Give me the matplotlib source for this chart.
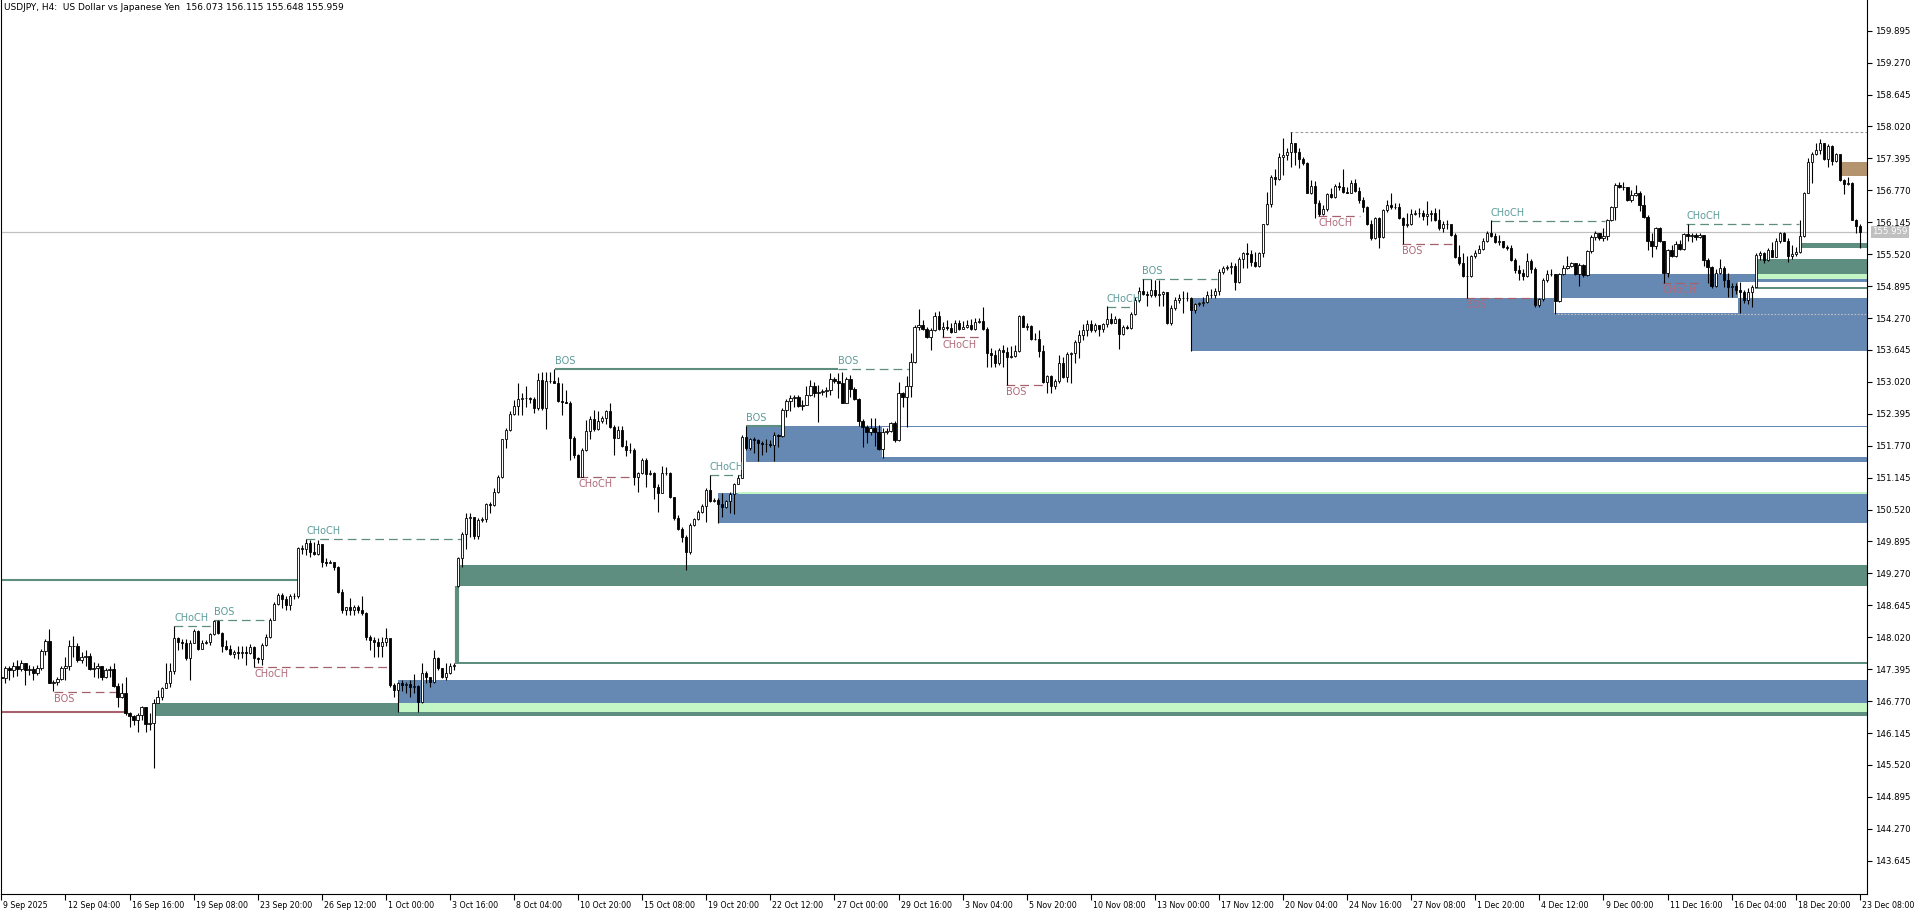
import matplotlib
matplotlib.use('Agg')
import matplotlib.pyplot as plt
from matplotlib.patches import Rectangle

plt.rcParams['font.family'] = ['DejaVu Sans']

# ---- USDJPY H4 candles, open = previous close ----
first_open = 147.25
gap_open = {114: 149.02}   # weekend gap on the Monday bar

close = [
    # 0 - 113
    147.22, 147.41, 147.38, 147.46, 147.39, 147.51, 147.37, 147.39, 147.33, 147.41,
    147.75, 147.95, 147.13, 147.15, 147.20, 147.41, 147.45, 147.84, 147.85, 147.58,
    147.64, 147.65, 147.39, 147.41, 147.46, 147.25, 147.38, 147.39, 147.07, 146.86,
    146.92, 146.53, 146.48, 146.40, 146.50, 146.65, 146.32, 146.35, 146.74, 146.86,
    147.02, 147.12, 147.35, 148.00, 147.93, 147.91, 147.61, 147.91, 148.14, 147.80,
    147.91, 147.93, 148.08, 148.33, 148.10, 147.84, 147.80, 147.69, 147.74, 147.72,
    147.74, 147.71, 147.82, 147.61, 147.59, 147.86, 148.03, 148.36, 148.68, 148.84,
    148.76, 148.65, 148.82, 148.83, 149.76, 149.74, 149.87, 149.68, 149.66, 149.84,
    149.50, 149.48, 149.50, 149.40, 148.91, 148.55, 148.61, 148.55, 148.62, 148.55,
    148.49, 148.03, 147.97, 147.93, 147.84, 147.93, 148.00, 147.09, 146.99, 147.12,
    147.09, 147.11, 147.05, 147.07, 146.76, 147.33, 147.25, 147.15, 147.61, 147.41,
    147.25, 147.33, 147.45, 147.48,
    # 114 - 228
    149.57,
    150.05, 150.35, 150.37, 150.00, 150.32, 150.34, 150.63, 150.61, 150.87, 151.15,
    151.90, 152.08, 152.40, 152.55, 152.68, 152.71, 152.70, 152.69, 152.50, 153.06,
    152.50, 153.04, 153.04, 153.00, 152.65, 152.63, 152.61, 151.93, 151.58, 151.16,
    151.69, 152.06, 152.29, 152.09, 152.26, 152.31, 152.44, 152.13, 151.93, 152.08,
    151.76, 151.69, 151.69, 151.16, 151.23, 151.49, 151.22, 151.24, 150.97, 150.85,
    151.23, 151.23, 150.77, 150.35, 150.13, 149.99, 149.68, 150.22, 150.33, 150.48,
    150.59, 150.90, 150.69, 150.71, 150.63, 150.58, 150.69, 150.82, 151.03, 151.14,
    151.95, 151.72, 151.90, 151.88, 151.82, 151.80, 151.80, 151.78, 151.98, 151.97,
    152.47, 152.65, 152.70, 152.72, 152.55, 152.57, 152.76, 152.93, 152.81, 152.83,
    152.85, 152.86, 153.07, 153.04, 153.00, 152.61, 153.07, 152.89, 152.68, 152.25,
    152.13, 152.03, 152.11, 152.03, 151.70, 152.03, 152.06, 152.21, 151.88, 152.81,
    152.72, 152.94, 153.40, 154.10,
    # 229 - 311
    154.13, 154.05, 153.89, 154.04, 154.31, 154.05, 154.09, 154.08, 154.00, 154.18,
    154.06, 154.09, 154.13, 154.06, 154.19, 154.21, 154.05, 153.58, 153.54, 153.38,
    153.64, 153.61, 153.51, 153.53, 153.63, 154.31, 154.10, 154.11, 153.85, 153.85,
    153.63, 153.02, 153.13, 152.93, 153.04, 153.38, 153.12, 153.57, 153.58, 153.81,
    153.94, 154.04, 154.15, 154.04, 154.13, 154.05, 154.15, 154.26, 154.18, 154.26,
    153.96, 154.10, 154.08, 154.35, 154.62, 154.79, 154.74, 154.73, 154.82, 154.73,
    154.74, 154.77, 154.18, 154.46, 154.62, 154.66, 154.67, 154.67, 154.43, 154.54,
    154.56, 154.59, 154.72, 154.72, 154.79, 155.18, 155.24, 155.26, 155.29, 154.98,
    155.42, 155.54, 155.52,
    # 312 - 349
    155.37, 155.28, 155.54, 156.11, 156.50, 157.04, 156.99, 157.43, 157.46, 157.53,
    157.69, 157.53, 157.38, 157.30, 156.72, 156.85, 156.53, 156.31, 156.40, 156.70,
    156.63, 156.85, 156.83, 156.74, 156.72, 156.91, 156.76, 156.59, 156.45, 156.12,
    155.83, 156.22, 155.85, 156.39, 156.48, 156.45, 156.45, 156.22,
    # 350 - 406
    156.09, 156.12, 156.31, 156.33, 156.32, 156.27, 156.31, 156.32, 156.19, 156.03,
    156.12, 156.11, 155.90, 155.46, 155.35, 155.09, 155.09, 155.48, 155.55, 155.63,
    155.78, 155.94, 155.88, 155.76, 155.78, 155.67, 155.65, 155.41, 155.21, 155.15,
    155.09, 155.39, 155.22, 154.53, 154.64, 155.02, 155.13, 155.13, 154.61, 155.13,
    155.24, 155.28, 155.35, 155.13, 155.31, 155.11, 155.59, 155.86, 155.93, 155.83,
    155.88, 156.19, 156.45, 156.87, 156.84, 156.83, 156.59,
    # 407 - 464
    156.68, 156.72, 156.48, 156.25, 155.77, 155.68, 156.03, 155.77, 155.16, 155.60,
    155.48, 155.72, 155.63, 155.92, 155.88, 155.90, 155.85, 155.90, 155.41, 155.26,
    154.90, 155.16, 155.24, 155.01, 154.88, 154.90, 154.81, 154.77, 154.62, 154.77,
    154.88, 155.50, 155.54, 155.41, 155.61, 155.47, 155.77, 155.93, 155.78, 155.48,
    155.52, 155.57, 155.88, 156.72, 157.33, 157.49, 157.55, 157.70, 157.38, 157.64,
    157.35, 157.48, 156.97, 156.89, 156.92, 156.19, 156.073, 155.959,
]

high = [
    147.27, 147.45, 147.46, 147.54, 147.58, 147.58, 147.51, 147.47, 147.45, 147.47,
    147.79, 147.98, 148.18, 147.18, 147.24, 147.46, 147.64, 147.97, 148.05, 147.90,
    147.74, 147.77, 147.71, 147.54, 147.51, 147.45, 147.41, 147.46, 147.51, 147.13,
    147.13, 147.24, 146.56, 146.50, 146.53, 146.67, 146.66, 146.53, 146.81, 146.99,
    147.05, 147.51, 147.51, 148.25, 148.03, 147.98, 147.98, 147.97, 148.18, 148.16,
    147.97, 147.97, 148.10, 148.36, 148.35, 148.13, 147.97, 147.86, 147.77, 147.84,
    147.84, 147.84, 147.88, 147.85, 147.64, 147.90, 148.08, 148.39, 148.72, 148.88,
    148.88, 148.82, 148.87, 148.88, 149.79, 149.83, 149.94, 149.92, 149.89, 149.92,
    149.79, 149.57, 149.53, 149.50, 149.42, 148.96, 148.62, 148.78, 148.65, 148.65,
    148.82, 148.52, 148.06, 148.03, 148.00, 148.02, 148.20, 147.91, 147.13, 147.15,
    147.18, 147.15, 147.18, 147.31, 147.09, 147.51, 147.35, 147.25, 147.77, 147.64,
    147.41, 147.51, 147.51, 147.51,
    149.60,
    150.09, 150.45, 150.46, 150.38, 150.35, 150.38, 150.64, 150.66, 150.94, 151.20,
    151.91, 152.11, 152.44, 152.67, 153.00, 152.80, 152.93, 152.73, 152.73, 153.19,
    153.22, 153.22, 153.22, 153.27, 153.12, 152.99, 152.86, 152.65, 151.96, 151.60,
    151.72, 152.27, 152.35, 152.46, 152.44, 152.35, 152.46, 152.61, 152.18, 152.16,
    152.16, 151.88, 151.82, 151.72, 151.26, 151.52, 151.52, 151.29, 151.26, 151.02,
    151.37, 151.36, 151.26, 150.77, 150.41, 150.17, 150.02, 150.25, 150.35, 150.51,
    150.63, 150.94, 151.20, 150.74, 150.74, 150.84, 150.71, 150.87, 151.05, 151.20,
    151.98, 152.16, 151.93, 151.95, 151.91, 151.87, 151.90, 151.88, 152.03, 152.00,
    152.50, 152.68, 152.76, 152.76, 152.76, 152.67, 152.93, 153.06, 153.02, 152.96,
    152.89, 152.91, 153.19, 153.11, 153.19, 153.22, 153.12, 153.15, 152.91, 152.70,
    152.29, 152.18, 152.31, 152.31, 152.18, 152.11, 152.11, 152.24, 152.26, 153.02,
    152.83, 153.14, 153.58, 154.13,
    154.44, 154.24, 154.10, 154.07, 154.39, 154.41, 154.20, 154.23, 154.17, 154.23,
    154.24, 154.22, 154.23, 154.26, 154.28, 154.28, 154.48, 154.09, 153.68, 153.64,
    153.68, 153.74, 153.71, 153.72, 153.74, 154.33, 154.33, 154.17, 154.13, 153.98,
    154.04, 153.74, 153.15, 153.15, 153.07, 153.55, 153.51, 153.61, 153.61, 153.84,
    154.04, 154.15, 154.23, 154.24, 154.18, 154.10, 154.18, 154.51, 154.36, 154.31,
    154.28, 154.13, 154.13, 154.38, 154.69, 154.88, 155.04, 154.79, 155.03, 155.01,
    155.01, 154.79, 154.77, 154.53, 154.69, 154.75, 154.79, 154.77, 154.69, 154.57,
    154.59, 154.69, 154.79, 154.83, 154.85, 155.22, 155.29, 155.31, 155.37, 155.34,
    155.46, 155.57, 155.73,
    155.60, 155.57, 155.57, 156.12, 156.74, 157.07, 157.18, 157.51, 157.79, 157.59,
    157.91, 157.70, 157.59, 157.43, 157.33, 156.97, 156.96, 156.58, 156.48, 156.71,
    156.81, 156.89, 156.94, 157.18, 156.84, 156.97, 156.99, 156.83, 156.63, 156.46,
    156.19, 156.24, 156.25, 156.40, 156.58, 156.72, 156.52, 156.52,
    156.25, 156.32, 156.40, 156.39, 156.42, 156.39, 156.57, 156.39, 156.42, 156.40,
    156.16, 156.19, 156.07, 155.93, 155.70, 155.54, 155.48, 155.50, 155.60, 155.70,
    155.83, 155.98, 156.19, 155.93, 155.90, 155.78, 155.70, 155.70, 155.44, 155.31,
    155.22, 155.54, 155.42, 155.26, 154.66, 155.05, 155.21, 155.22, 155.13, 155.15,
    155.31, 155.48, 155.37, 155.35, 155.34, 155.33, 155.61, 155.90, 155.98, 155.94,
    156.03, 156.20, 156.46, 156.91, 156.94, 156.94, 156.83,
    156.78, 156.87, 156.76, 156.68, 156.29, 155.94, 156.06, 156.06, 155.78, 155.63,
    155.70, 155.77, 155.80, 155.94, 156.11, 155.93, 155.93, 155.93, 155.90, 155.44,
    155.29, 155.22, 155.42, 155.28, 155.15, 154.95, 154.95, 154.98, 154.81, 154.85,
    154.92, 155.55, 155.59, 155.57, 155.65, 155.75, 155.83, 155.96, 155.96, 155.83,
    155.70, 155.67, 156.19, 156.74, 157.40, 157.53, 157.69, 157.77, 157.69, 157.68,
    157.66, 157.51, 157.44, 156.99, 157.04, 156.94, 156.20, 156.115,
]

low = [
    146.71, 147.13, 147.18, 147.25, 147.26, 147.35, 147.09, 147.28, 147.18, 147.28,
    147.38, 147.67, 147.12, 146.96, 147.09, 147.18, 147.18, 147.38, 147.64, 147.54,
    147.51, 147.45, 147.38, 147.25, 147.22, 147.18, 147.22, 147.24, 147.05, 146.66,
    146.84, 146.50, 146.27, 146.30, 146.17, 146.40, 146.17, 146.21, 145.46, 146.73,
    146.79, 147.02, 147.05, 147.31, 147.78, 147.80, 147.57, 147.18, 147.90, 147.77,
    147.79, 147.89, 147.87, 148.06, 148.08, 147.74, 147.77, 147.67, 147.61, 147.59,
    147.61, 147.48, 147.69, 147.43, 147.51, 147.48, 147.84, 148.00, 148.41, 148.65,
    148.59, 148.55, 148.55, 148.76, 148.78, 149.66, 149.63, 149.60, 149.63, 149.63,
    149.40, 149.42, 149.48, 149.34, 148.89, 148.49, 148.46, 148.46, 148.46, 148.49,
    148.46, 147.97, 147.78, 147.64, 147.64, 147.64, 147.84, 147.05, 146.86, 146.56,
    146.96, 146.92, 146.86, 146.92, 146.56, 146.73, 147.12, 147.05, 147.12, 147.38,
    147.22, 147.18, 147.30, 147.38,
    149.00,
    149.40, 149.74, 149.99, 149.94, 149.94, 150.28, 150.28, 150.45, 150.59, 150.85,
    151.13, 151.72, 152.05, 152.37, 152.37, 152.37, 152.53, 152.60, 152.42, 152.47,
    152.47, 152.09, 152.99, 152.99, 152.63, 152.37, 152.60, 151.49, 151.52, 151.15,
    151.15, 151.67, 151.90, 152.06, 152.08, 152.21, 152.20, 152.11, 151.59, 151.93,
    151.75, 151.57, 151.63, 151.00, 150.87, 151.22, 150.97, 151.20, 150.72, 150.48,
    150.84, 151.20, 150.74, 150.32, 150.12, 149.89, 149.34, 149.66, 150.19, 150.32,
    150.45, 150.28, 150.67, 150.67, 150.25, 150.38, 150.56, 150.45, 150.43, 151.02,
    151.13, 151.69, 151.69, 151.62, 151.48, 151.59, 151.65, 151.75, 151.48, 151.75,
    151.95, 152.33, 152.44, 152.53, 152.53, 152.46, 152.57, 152.74, 152.73, 152.24,
    152.76, 152.73, 152.76, 153.00, 152.70, 152.60, 152.60, 152.73, 152.67, 152.16,
    151.74, 151.82, 151.98, 151.76, 151.69, 151.52, 152.00, 152.03, 151.85, 151.87,
    152.52, 152.14, 152.72, 153.38,
    154.04, 154.04, 153.87, 153.64, 154.02, 154.04, 153.89, 154.04, 153.98, 154.02,
    154.04, 154.05, 154.07, 154.04, 154.04, 154.17, 154.04, 153.32, 153.32, 153.32,
    153.35, 153.32, 152.96, 153.48, 153.51, 153.61, 154.09, 154.04, 153.84, 153.83,
    153.51, 153.00, 152.80, 152.80, 152.89, 153.00, 153.09, 153.02, 152.99, 153.38,
    153.48, 153.84, 153.92, 154.00, 154.00, 153.91, 154.00, 154.10, 154.15, 154.17,
    153.66, 153.94, 154.05, 154.05, 154.33, 154.59, 154.72, 154.51, 154.69, 154.69,
    154.51, 154.51, 154.15, 154.13, 154.43, 154.56, 154.36, 154.61, 153.63, 154.36,
    154.51, 154.51, 154.57, 154.66, 154.66, 154.72, 155.14, 155.21, 155.14, 154.81,
    154.96, 155.24, 155.24,
    155.28, 155.26, 155.26, 155.47, 156.09, 156.45, 156.87, 156.97, 157.07, 157.36,
    157.22, 157.27, 157.20, 157.27, 156.71, 156.70, 156.22, 156.27, 156.29, 156.37,
    156.61, 156.61, 156.78, 156.72, 156.71, 156.71, 156.74, 156.52, 156.35, 156.09,
    155.79, 155.81, 155.65, 155.83, 156.35, 156.40, 156.40, 156.20,
    155.72, 156.06, 156.09, 156.29, 156.25, 156.19, 156.09, 156.16, 156.16, 155.99,
    155.96, 156.01, 155.88, 155.44, 155.31, 155.08, 154.66, 155.08, 155.44, 155.54,
    155.60, 155.76, 155.86, 155.74, 155.70, 155.65, 155.60, 155.39, 155.15, 155.02,
    155.02, 155.08, 155.15, 154.49, 154.49, 154.61, 154.98, 155.09, 154.35, 154.59,
    155.11, 155.22, 155.26, 155.11, 154.90, 155.08, 155.09, 155.55, 155.80, 155.80,
    155.78, 155.80, 156.16, 156.18, 156.81, 156.78, 156.57,
    156.55, 156.65, 156.37, 156.22, 155.60, 155.47, 155.63, 155.75, 154.95, 155.07,
    155.47, 155.47, 155.61, 155.61, 155.77, 155.75, 155.80, 155.83, 155.29, 154.95,
    154.85, 154.87, 155.13, 154.88, 154.69, 154.69, 154.75, 154.37, 154.56, 154.55,
    154.49, 154.87, 155.41, 155.34, 155.39, 155.46, 155.46, 155.73, 155.77, 155.37,
    155.42, 155.48, 155.55, 155.86, 156.71, 156.92, 157.46, 157.49, 157.36, 157.22,
    157.27, 157.33, 156.96, 156.70, 156.87, 156.18, 155.93, 155.648,
]

# ---- zones drawn by the SMC indicator: (start bar, low, high, colour) ----
BLUE, GREEN, LGREEN, BROWN = '#6689B4', '#5E8E80', '#C4F5C4', '#B4946F'
zones = [
    (38.3, 146.47, 146.74, GREEN),
    (99.0, 146.74, 147.18, BLUE),
    (99.0, 146.56, 146.74, LGREEN),
    (114.5, 149.03, 149.44, GREEN),
    (113.3, 147.49, 147.53, GREEN),
    (179.0, 150.26, 150.84, BLUE),
    (183.9, 150.83, 150.86, LGREEN),
    (185.9, 151.46, 152.16, BLUE),
    (219.9, 151.54, 152.14, 'white'),
    (296.9, 153.63, 154.66, BLUE),
    (387.7, 154.37, 154.66, 'white'),
    (388.7, 154.67, 155.13, BLUE),
    (433.7, 154.37, 154.67, BLUE),
    (433.7, 154.67, 154.98, 'white'),
    (437.9, 155.13, 155.42, GREEN),
    (437.9, 155.03, 155.13, LGREEN),
    (437.9, 154.84, 154.88, GREEN),
    (448.9, 155.65, 155.73, GREEN),
    (458.9, 157.05, 157.33, BROWN),
]

# structure breaks: (start bar, end bar, price, label, direction)
breaks = [
    (13.2, 28.9, 146.955, 'BOS', 'bear'),
    (43.2, 53.2, 148.25, 'CHoCH', 'bull'),
    (53.2, 67.1, 148.36, 'BOS', 'bull'),
    (63.1, 97.1, 147.43, 'CHoCH', 'bear'),
    (76.1, 114.9, 149.94, 'CHoCH', 'bull'),
    (138.2, 208.9, 153.27, 'BOS', 'bull_solid'),
    (144.1, 158.2, 151.16, 'CHoCH', 'bear'),
    (176.9, 185.2, 151.20, 'CHoCH', 'bull'),
    (185.9, 194.8, 152.16, 'BOS', 'bull_solid'),
    (208.9, 226.9, 153.27, 'BOS', 'bull'),
    (234.9, 245.2, 153.89, 'CHoCH', 'bear'),
    (250.9, 261.0, 152.96, 'BOS', 'bear'),
    (276.0, 282.6, 154.49, 'CHoCH', 'bull'),
    (284.9, 303.4, 155.04, 'BOS', 'bull'),
    (328.8, 339.2, 156.27, 'CHoCH', 'bear'),
    (349.8, 362.5, 155.72, 'BOS', 'bear'),
    (365.8, 382.5, 154.66, 'BOS', 'bear'),
    (371.8, 400.4, 156.17, 'CHoCH', 'bull'),
    (414.7, 424.9, 154.95, 'CHoCH', 'bear'),
    (420.7, 448.7, 156.11, 'CHoCH', 'bull'),
]

last_price = 155.959
peak_level = (321.8, 157.91)
price_ticks = [143.645, 144.270, 144.895, 145.520, 146.145, 146.770, 147.395,
               148.020, 148.645, 149.270, 149.895, 150.520, 151.145, 151.770,
               152.395, 153.020, 153.645, 154.270, 154.895, 155.520, 156.145,
               156.770, 157.395, 158.020, 158.645, 159.270, 159.895]
time_labels = ['9 Sep 2025', '12 Sep 04:00', '16 Sep 16:00', '19 Sep 08:00',
               '23 Sep 20:00', '26 Sep 12:00', '1 Oct 00:00', '3 Oct 16:00',
               '8 Oct 04:00', '10 Oct 20:00', '15 Oct 08:00', '19 Oct 20:00',
               '22 Oct 12:00', '27 Oct 00:00', '29 Oct 16:00', '3 Nov 04:00',
               '5 Nov 20:00', '10 Nov 08:00', '13 Nov 00:00', '17 Nov 12:00',
               '20 Nov 04:00', '24 Nov 16:00', '27 Nov 08:00', '1 Dec 20:00',
               '4 Dec 12:00', '9 Dec 00:00', '11 Dec 16:00', '16 Dec 04:00',
               '18 Dec 20:00', '23 Dec 08:00']
bars_per_label = 16

# ---------------------------------------------------------------
fig = plt.figure(figsize=(19.2, 9.15), dpi=100)
ax = fig.add_axes([1 / 1920, 21 / 915, 1866 / 1920, 894 / 915])
x_left, x_right = -0.1, 465.8
ax.set_xlim(x_left, x_right)
ax.set_ylim(142.994, 160.496)

for x0, lo, hi, col in zones:
    ax.add_patch(Rectangle((x0, lo), x_right + 5 - x0, hi - lo,
                           facecolor=col, edgecolor='none', zorder=1))

# old levels at the left edge and the box outline after the gap
ax.hlines(146.56, x_left, 31.3, color='#A6606C', lw=1.5, zorder=2)
ax.hlines(149.14, x_left, 74.1, color=GREEN, lw=1.5, zorder=2)
ax.vlines(113.8, 147.51, 149.03, color=GREEN, lw=3, zorder=2)
ax.hlines(154.355, 387.7, x_right, color='#BDBDBD', lw=0.8,
          linestyle=(0, (1.5, 1.5)), zorder=2)
ax.hlines(peak_level[1], peak_level[0], x_right, color='#9A9A9A', lw=0.8,
          linestyle=(0, (2.5, 2)), zorder=2)
ax.axhline(last_price, color='#C0C0C0', lw=0.9, zorder=2)

for x0, x1, lvl, txt, kind in breaks:
    bull = kind.startswith('bull')
    col = GREEN if bull else '#A6606C'
    if kind == 'bull_solid':
        ax.hlines(lvl, x0, x1, color=col, lw=1.5, zorder=2)
    else:
        ax.hlines(lvl, x0, x1, color=col, lw=0.9, linestyle=(0, (7, 4)), zorder=2)
    if bull:
        ax.annotate(txt, (x0, lvl), xytext=(0, 2), textcoords='offset points',
                    ha='left', va='bottom', fontsize=7, color='#5C9C9A', zorder=6)
    else:
        ax.annotate(txt, (x0, lvl), xytext=(0, -1.5), textcoords='offset points',
                    ha='left', va='top', fontsize=7, color='#B06A7A', zorder=6)

# candles
opens = [first_open] + close[:-1]
for k, v in gap_open.items():
    opens[k] = v
idx = list(range(len(close)))
ax.vlines(idx, low, high, colors='black', lw=0.8, zorder=3)
bottoms = [min(o, c) for o, c in zip(opens, close)]
heights = [abs(c - o) for o, c in zip(opens, close)]
faces = ['white' if c >= o else 'black' for o, c in zip(opens, close)]
ax.bar(idx, heights, bottom=bottoms, width=0.55, color=faces,
       edgecolor='black', linewidth=0.6, zorder=4)

# axes look (MetaTrader style)
ax.spines['top'].set_visible(False)
for s in ['left', 'right', 'bottom']:
    ax.spines[s].set_linewidth(0.8)
ax.yaxis.tick_right()
ax.set_yticks(price_ticks)
ax.set_yticklabels([f'{p:.3f}' for p in price_ticks])
ax.tick_params(axis='y', direction='out', length=3.5, width=0.8, pad=2, labelsize=6.2)
ax.set_xticks([bars_per_label * k for k in range(len(time_labels))])
ax.set_xticklabels([])
ax.tick_params(axis='x', direction='out', length=4.5, width=0.8)
for k, lab in enumerate(time_labels):
    ax.annotate(lab, (bars_per_label * k, 0), xycoords=('data', 'axes fraction'),
                xytext=(1.5, -8.6), textcoords='offset points', ha='left',
                va='center', fontsize=5.7, annotation_clip=False)

ax.annotate(f'{last_price:.3f}', (1.0, last_price), xycoords=('axes fraction', 'data'),
            xytext=(3.5, 0), textcoords='offset points', ha='left', va='center',
            fontsize=6.2, color='white', annotation_clip=False,
            bbox=dict(boxstyle='square,pad=0.15', facecolor='#C0C0C0', edgecolor='none'))

fig.text(4 / 1920, 1 - 8 / 915, 'USDJPY, H4:  US Dollar vs Japanese Yen  156.073 156.115 155.648 155.959',
         ha='left', va='center', fontsize=6.5)

fig.savefig('out.png', dpi=100, facecolor='white')
